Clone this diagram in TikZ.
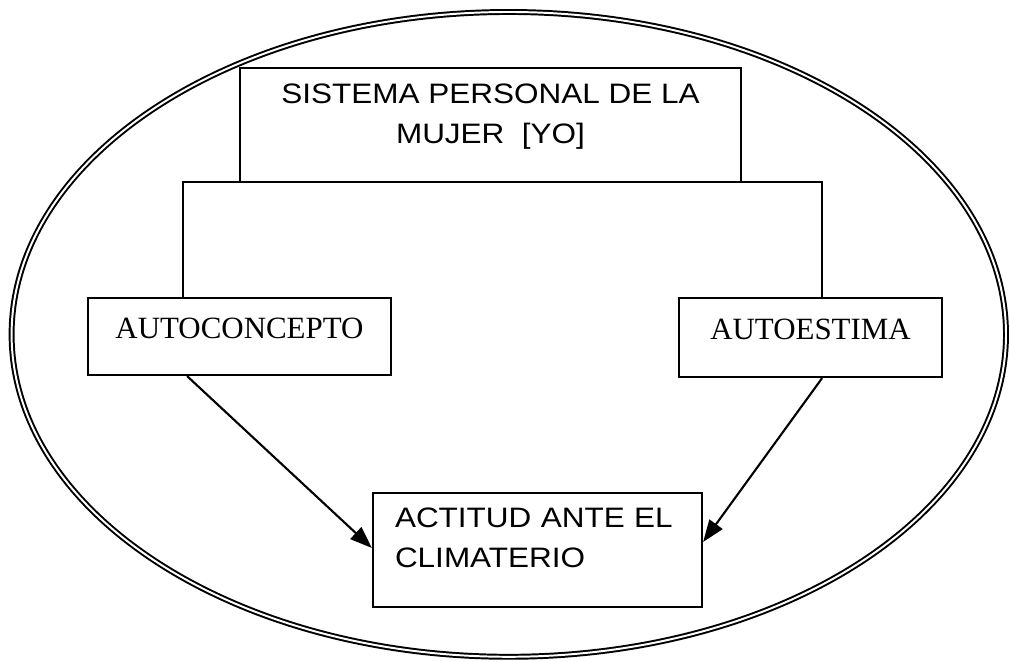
\documentclass[tikz,border=0pt]{standalone}
\usepackage{fontspec}
\setmainfont{Liberation Serif}
\newfontfamily\arialtext[FakeStretch=1.12]{Liberation Sans}
\usepackage{tikz}
\usetikzlibrary{positioning,calc,arrows.meta}

\tikzset{
    caja/.style={draw, line width=1.6pt, fill=white, inner sep=0pt},
    textosans/.style={font=\arialtext\fontsize{20}{28.4}\selectfont},
    textoserif/.style={font=\fontsize{22}{26}\selectfont},
    flecha/.style={line width=1.5pt, -{Triangle[length=0.55cm,width=0.4cm]}},
}

\begin{document}
\begin{tikzpicture}
    \useasboundingbox (0,0) rectangle (25.25,16.55);

    % Outer ellipse
    \draw[line width=1.4pt, double, double distance=1.4pt] (12.72,8.19) ellipse (12.43cm and 8.06cm);

    % Boxes
    \node[caja, textosans, align=center, minimum width=12.525cm, minimum height=2.85cm] (yo) at (12.2625,13.425)
        {SISTEMA PERSONAL DE LA\\MUJER~~[YO]\rule[-0.55cm]{0pt}{0pt}};
    \node[caja, textoserif, text depth=0.42cm, minimum width=7.575cm, minimum height=1.925cm] (autoc) at (5.9875,8.1375) {AUTOCONCEPTO};
    \node[caja, textoserif, text depth=0.42cm, minimum width=6.575cm, minimum height=1.975cm] (autoe) at (20.2625,8.1125) {AUTOESTIMA};
    \node[caja, textosans, align=left, inner xsep=0.55cm, text width=7.125cm, minimum height=2.85cm] (actitud) at (13.4375,2.8)
        {ACTITUD ANTE EL\\CLIMATERIO\rule[-0.6cm]{0pt}{0pt}};

    % Connectors
    \draw[line width=1.5pt] ([xshift=-1.41cm]autoc.north) -- ++(0,2.875) -| ([xshift=0.29cm]autoe.north);
    \draw[flecha] ([xshift=-1.31cm]autoc.south) -- ([yshift=0.05cm]actitud.west);
    \draw[flecha] ([xshift=0.29cm]autoe.south) -- ([yshift=0.2cm]actitud.east);

\end{tikzpicture}
\end{document}
